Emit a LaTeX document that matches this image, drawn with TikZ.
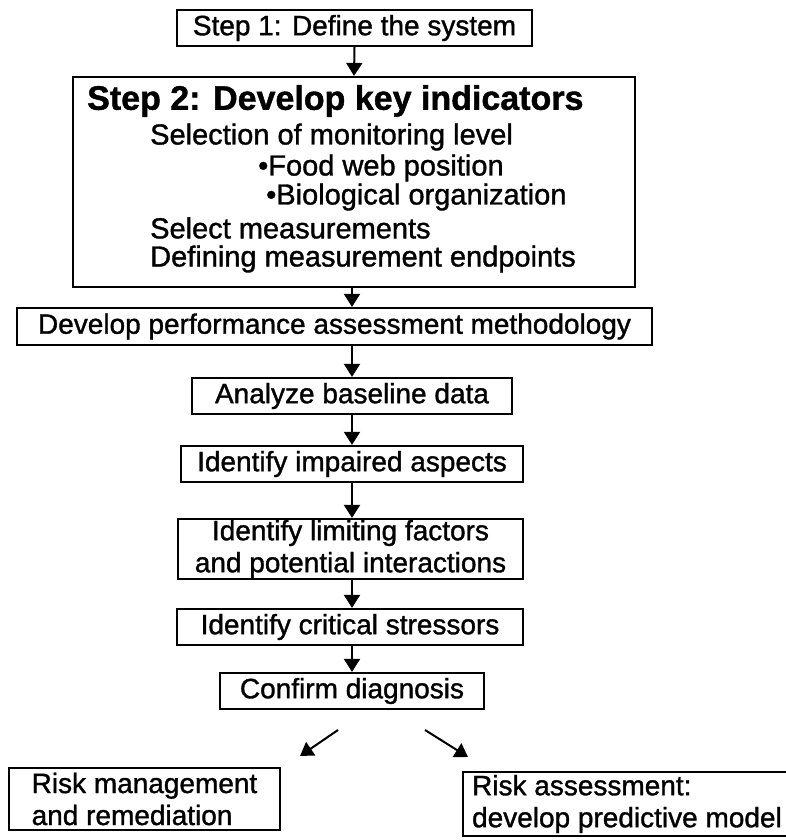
\documentclass[tikz,border=0pt]{standalone}
\usepackage{fontspec}
\setmainfont[FakeBold=1.2]{Liberation Sans}
\usetikzlibrary{arrows.meta}
\begin{document}
\begin{tikzpicture}[x=1pt,y=-1pt,
  box/.style={draw, line width=2.2pt, inner sep=0pt, font=\fontsize{28}{32}\selectfont},
  arr/.style={line width=2pt, -{Triangle[width=16pt,length=13pt]}},
  txt/.style={inner sep=0pt, anchor=west, font=\fontsize{29}{32}\selectfont}]
\useasboundingbox (0,0) rectangle (786,840);

% main chain of steps
\node[box, minimum width=355pt, minimum height=36pt] (s1) at (354.5,28) {Step 1: Define the system};
\node[box, minimum width=562pt, minimum height=210pt] (s2) at (354,182) {};
\node[txt, font=\bfseries\fontsize{34}{38}\selectfont] (s2t) at (87,101) {Step 2: Develop key indicators};
\node[txt] (s2a) at (150,137) {Selection of monitoring level};
\node[txt] (s2b) at (258,168) {•Food web position};
\node[txt] (s2c) at (266,197) {•Biological organization};
\node[txt] (s2d) at (150,228) {Select measurements};
\node[txt] (s2e) at (150,259) {Defining measurement endpoints};
\node[box, minimum width=635pt, minimum height=37pt] (dev) at (334.5,326.5) {Develop performance assessment methodology};
\node[box, minimum width=320pt, minimum height=36pt] (ana) at (352,396) {Analyze baseline data};
\node[box, minimum width=342pt, minimum height=36pt] (imp) at (352,464) {Identify impaired aspects};
\node[box, minimum width=345pt, minimum height=60pt, align=center] (lim) at (350.5,549) {Identify limiting factors\\and potential interactions};
\node[box, minimum width=346pt, minimum height=36pt] (cri) at (350,627) {Identify critical stressors};
\node[box, minimum width=264pt, minimum height=36pt] (con) at (352,691) {Confirm diagnosis};

% the two outcomes
\node[box, minimum width=271pt, minimum height=62pt, align=left] (rm) at (144.5,799) {Risk management\\and remediation};
\node[box, minimum height=64pt, minimum width=340pt, inner xsep=9pt, align=left, anchor=west] (ra) at (462,804) {Risk assessment:\hspace*{8em}\\develop predictive model};

% connectors
\draw[arr] (s1.south) -- (s2.north);
\draw[arr] (ana.north |- s2.south) -- (ana.north |- dev.north);
\draw[arr] (ana.north |- dev.south) -- (ana.north);
\draw[arr] (ana.south) -- (imp.north);
\draw[arr] (imp.south) -- (imp.south |- lim.north);
\draw[arr] (imp.south |- lim.south) -- (imp.south |- cri.north);
\draw[arr] (imp.south |- cri.south) -- (con.north);

\coordinate (cl0) at (338,730);
\coordinate (cl1) at (300,756);
\coordinate (cr0) at (425,730);
\coordinate (cr1) at (468,757);
\draw[arr] (cl0) -- (cl1);
\draw[arr] (cr0) -- (cr1);
\end{tikzpicture}
\end{document}
